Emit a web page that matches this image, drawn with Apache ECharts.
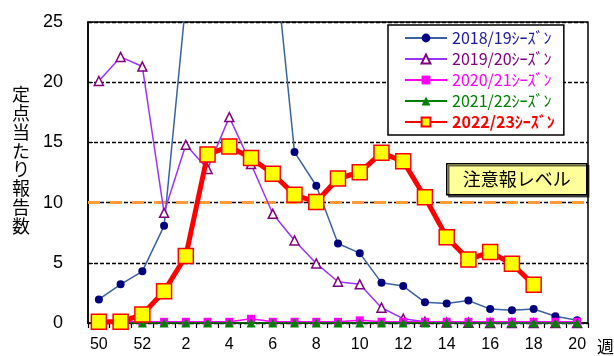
<!DOCTYPE html>
<html>
<head>
<meta charset="utf-8">
<script src="https://cdn.jsdelivr.net/npm/echarts@6/dist/echarts.min.js"></script>
<style>
  html, body { margin: 0; padding: 0; background: #fff; }
  #chart { width: 614px; height: 356px; }
</style>
</head>
<body>
<div id="chart"></div>
<script>
// Week numbers along the season (week 50 to week 20 of the following year)
const weeks = ['50','51','52','1','2','3','4','5','6','7','8','9','10','11','12','13','14','15','16','17','18','19','20'];

// Reports per sentinel site, by season
const season1819 = [1.96, 3.21, 4.29, 8.07, 26.7, 38, 45, 40, 32, 14.2, 11.4, 6.6, 5.8, 3.35, 3.07, 1.72, 1.61, 1.86, 1.16, 1.05, 1.16, 0.56, 0.22];
const season1920 = [20.1, 22.1, 21.3, 9.15, 14.8, 12.8, 17.1, 13.2, 9.07, 6.86, 4.95, 3.43, 3.21, 1.27, 0.36, 0.1, 0.05, 0.03, 0, 0, 0, 0, 0];
const season2021 = [0.1, 0.1, 0.1, 0.1, 0.1, 0.1, 0.1, 0.35, 0.1, 0.1, 0.1, 0.1, 0.22, 0.1, 0.1, 0.1, 0.1, 0.1, 0.1, 0.1, 0.1, 0.1, 0.1];
const season2122 = [0, 0, 0, 0, 0, 0, 0, 0, 0, 0, 0, 0, 0, 0, 0, 0, 0, 0, 0, 0, 0, 0, 0];
const season2223 = [0.1, 0.1, 0.7, 2.63, 5.56, 14.0, 14.65, 13.7, 12.4, 10.65, 10.05, 12.0, 12.52, 14.13, 13.43, 10.45, 7.13, 5.28, 5.89, 4.92, 3.18, null, null];

// Series names shown in the legend
const seasonNames = ['2018/19ｼｰｽﾞﾝ', '2019/20ｼｰｽﾞﾝ', '2020/21ｼｰｽﾞﾝ', '2021/22ｼｰｽﾞﾝ', '2022/23ｼｰｽﾞﾝ'];

// Advisory threshold and y-axis ticks
const advisoryLevel = 10;
const yTicks = { min: 0, max: 25, interval: 5 };

const chart = echarts.init(document.getElementById('chart'), null, { renderer: 'canvas' });

const jp = "'Noto Sans CJK JP', sans-serif";
const num = "'Liberation Sans', Arial, sans-serif";

const option = {
  animation: false,
  backgroundColor: '#ffffff',
  grid: {
    left: 88, right: 26, top: 22, bottom: 33,
    show: true, borderColor: '#000', borderWidth: 1.5, backgroundColor: 'transparent'
  },
  legend: {
    orient: 'vertical',
    left: 388, top: 25,
    padding: [5, 9, 5, 16],
    itemWidth: 42, itemHeight: 11, itemGap: 5,
    backgroundColor: '#fff',
    borderColor: '#000', borderWidth: 1.5,
    textStyle: { fontFamily: jp, fontSize: 16, lineHeight: 16 },
    data: [
      { name: seasonNames[0], textStyle: { color: '#1a1aa0' } },
      { name: seasonNames[1], textStyle: { color: '#800080' } },
      { name: seasonNames[2], textStyle: { color: '#ff00ff' } },
      { name: seasonNames[3], textStyle: { color: '#008000' } },
      { name: seasonNames[4], textStyle: { color: '#ff0000', fontWeight: 'bold', fontSize: 16 } }
    ]
  },
  xAxis: {
    type: 'category',
    data: weeks,
    boundaryGap: true,
    axisLine: { lineStyle: { color: '#000', width: 1.5 } },
    axisTick: { show: true, inside: false, length: 5, interval: 0, lineStyle: { color: '#000', width: 1.2 } },
    axisLabel: { interval: 1, color: '#000', fontFamily: num, fontSize: 16, margin: 14 },
    splitLine: { show: false }
  },
  yAxis: {
    type: 'value',
    min: yTicks.min, max: yTicks.max, interval: yTicks.interval,
    axisLine: { show: true, lineStyle: { color: '#000', width: 1.5 } },
    axisTick: { show: true, inside: true, length: 5, lineStyle: { color: '#000' } },
    axisLabel: { color: '#000', fontFamily: num, fontSize: 18, margin: 25 },
    splitLine: { show: true, lineStyle: { color: '#000', width: 1.3, type: [4, 2] } }
  },
  graphic: [
    {
      type: 'text', left: 12, top: 85, z: 10,
      style: {
        text: '定\n点\n当\nた\nり\n報\n告\n数',
        font: "18px 'Noto Sans CJK JP'", lineHeight: 18.8, fill: '#000', align: 'center'
      }
    },
    {
      type: 'text', left: 597, top: 338, z: 10,
      style: { text: '週', font: "17px 'Noto Sans CJK JP'", fill: '#000' }
    },
    {
      type: 'group', left: 446, top: 163, z: 20,
      children: [
        {
          type: 'rect', shape: { x: 0, y: 0, width: 140, height: 31 },
          style: { fill: '#ffff99', stroke: '#000', lineWidth: 1.5,
                   shadowColor: 'rgba(0,0,0,0.6)', shadowOffsetX: 2, shadowOffsetY: 2, shadowBlur: 0 }
        },
        {
          type: 'text', x: 70, y: 15.5,
          style: { text: '注意報レベル', font: "18px 'Noto Sans CJK JP'", fill: '#000',
                   align: 'center', verticalAlign: 'middle' }
        }
      ]
    }
  ],
  series: [
    {
      name: seasonNames[0], type: 'line', data: season1819, z: 3,
      symbol: 'circle', symbolSize: 8, showAllSymbol: true,
      lineStyle: { color: '#3a62a0', width: 1.5 },
      itemStyle: { color: '#000080' },
      markLine: {
        silent: true, symbol: 'none', z: 1,
        label: { show: false },
        lineStyle: { color: '#ff9a3c', width: 3, type: [12, 10] },
        data: [{ yAxis: advisoryLevel }]
      }
    },
    {
      name: seasonNames[1], type: 'line', data: season1920, z: 4,
      symbol: 'triangle', symbolSize: 9, showAllSymbol: true,
      lineStyle: { color: '#9933ff', width: 1.5 },
      itemStyle: { color: '#ffffff', borderColor: '#800080', borderWidth: 1.5 }
    },
    {
      name: seasonNames[2], type: 'line', data: season2021, z: 5,
      symbol: 'rect', symbolSize: 8, showAllSymbol: true,
      lineStyle: { color: '#ff00ff', width: 1.5 },
      itemStyle: { color: '#ff00ff' }
    },
    {
      name: seasonNames[3], type: 'line', data: season2122, z: 6,
      symbol: 'triangle', symbolSize: 9, showAllSymbol: true,
      lineStyle: { color: '#008000', width: 1.5 },
      itemStyle: { color: '#008000' }
    },
    {
      name: seasonNames[4], type: 'line', data: season2223, z: 7,
      symbol: 'rect', symbolSize: 15, showAllSymbol: true,
      lineStyle: { color: '#ff0000', width: 5 },
      itemStyle: { color: '#ffff00', borderColor: '#ff0000', borderWidth: 1.5 }
    }
  ]
};

chart.setOption(option);
</script>
</body>
</html>
